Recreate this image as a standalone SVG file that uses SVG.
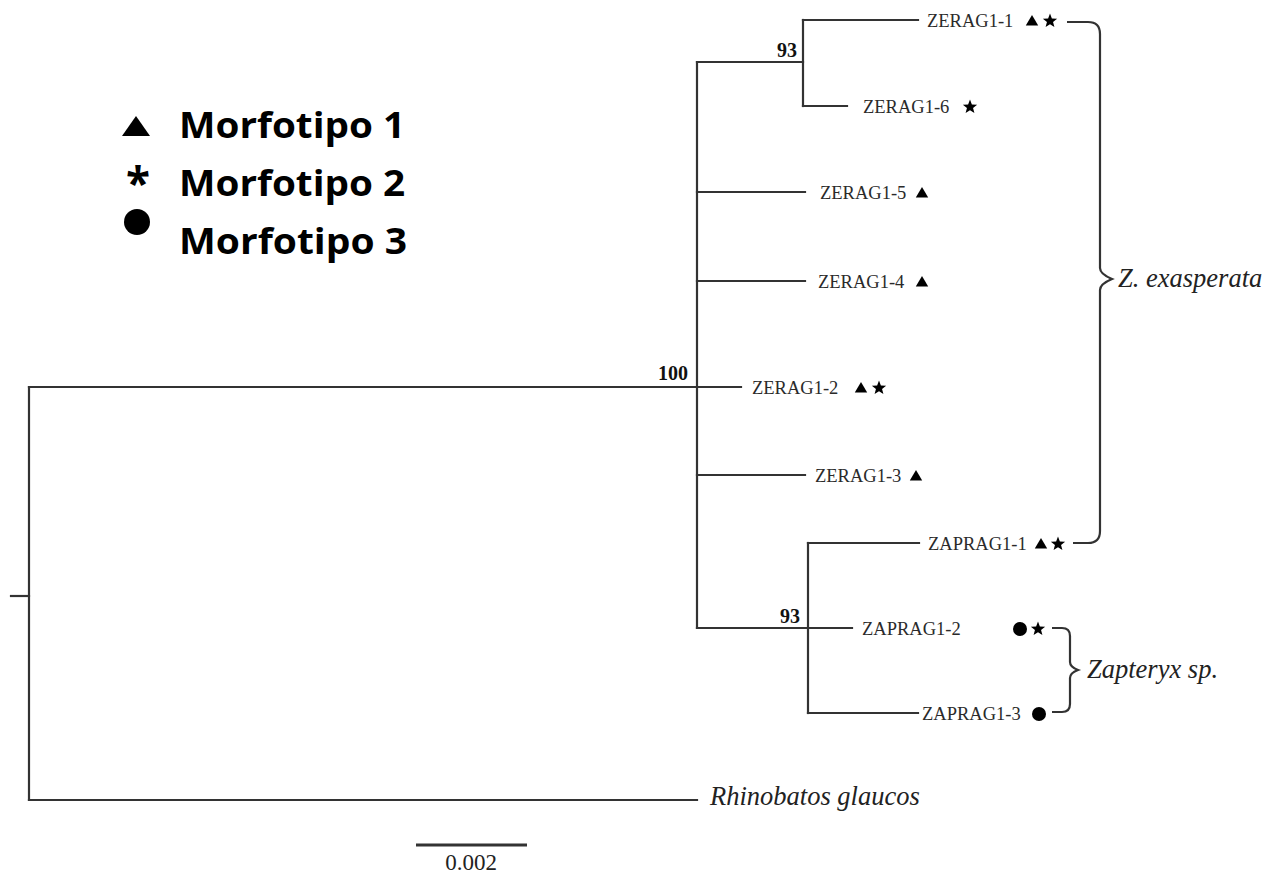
<svg xmlns="http://www.w3.org/2000/svg" xmlns:xlink="http://www.w3.org/1999/xlink" width="1282" height="874" viewBox="0 0 1282 874">
<style>
.br{stroke:#333;stroke-width:2.2;fill:none;stroke-linecap:square}
.tip{font-family:"Liberation Serif",serif;font-size:18.5px;fill:#2a2a2a}
.sup{font-family:"Liberation Serif",serif;font-size:20px;font-weight:bold;fill:#111}
.sp{font-family:"Liberation Serif",serif;font-style:italic;font-size:26.5px;fill:#222}
.leg{font-family:"Open Sans","Liberation Sans",sans-serif;font-weight:bold;font-size:35px;fill:#000}
.brace{stroke:#333;stroke-width:2.2;fill:none}
.m{fill:#000}
</style>
<defs>
<path id="tri" d="M0,-6 L6.2,4.5 L-6.2,4.5 Z"/>
<path id="star" d="M0,-7.5 L1.88,-2.59 L7.13,-2.32 L3.04,0.99 L4.41,6.07 L0,3.2 L-4.41,6.07 L-3.04,0.99 L-7.13,-2.32 L-1.88,-2.59 Z"/>
<circle id="dot" cx="0" cy="0" r="7"/>
</defs>
<rect width="1282" height="874" fill="#fff"/>

<g id="connectors">
<path class="br" d="M11,596 H29"/>
<path class="br" d="M29,387 V800"/>
<path class="br" d="M29,387 H697"/>
<path class="br" d="M29,800 H697"/>
<path class="br" d="M697,62 V628"/>
<path class="br" d="M697,62 H803"/>
<path class="br" d="M803,20 V106"/>
<path class="br" d="M803,20 H918"/>
<path class="br" d="M803,106 H847"/>
<path class="br" d="M697,192 H805"/>
<path class="br" d="M697,281 H805"/>
<path class="br" d="M697,387 H741"/>
<path class="br" d="M697,475 H805"/>
<path class="br" d="M697,628 H808"/>
<path class="br" d="M808,543 V713"/>
<path class="br" d="M808,543 H919"/>
<path class="br" d="M808,628 H852"/>
<path class="br" d="M808,713 H918"/>
</g>

<g id="support">
<text class="sup" x="658" y="380">100</text>
<text class="sup" x="777" y="57">93</text>
<text class="sup" x="780" y="623">93</text>
</g>

<g id="ZERAG1-1"><text class="tip" x="927" y="27">ZERAG1-1</text><use href="#tri" x="1032" y="21" class="m"/><use href="#star" x="1050" y="21" class="m"/></g>
<g id="ZERAG1-6"><text class="tip" x="863" y="113">ZERAG1-6</text><use href="#star" x="970" y="107" class="m"/></g>
<g id="ZERAG1-5"><text class="tip" x="820" y="199">ZERAG1-5</text><use href="#tri" x="922" y="193" class="m"/></g>
<g id="ZERAG1-4"><text class="tip" x="818" y="288">ZERAG1-4</text><use href="#tri" x="922" y="282" class="m"/></g>
<g id="ZERAG1-2"><text class="tip" x="752" y="394">ZERAG1-2</text><use href="#tri" x="861" y="388" class="m"/><use href="#star" x="879" y="388" class="m"/></g>
<g id="ZERAG1-3"><text class="tip" x="815" y="482">ZERAG1-3</text><use href="#tri" x="916" y="476" class="m"/></g>
<g id="ZAPRAG1-1"><text class="tip" x="928" y="550">ZAPRAG1-1</text><use href="#tri" x="1041" y="544" class="m"/><use href="#star" x="1058" y="544" class="m"/></g>
<g id="ZAPRAG1-2"><text class="tip" x="862" y="635">ZAPRAG1-2</text><use href="#dot" x="1020" y="629" class="m"/><use href="#star" x="1038" y="629" class="m"/></g>
<g id="ZAPRAG1-3"><text class="tip" x="922" y="720">ZAPRAG1-3</text><use href="#dot" x="1039" y="714" class="m"/></g>
<g id="Rhinobatos"><text class="sp" x="710" y="805">Rhinobatos glaucos</text></g>

<g id="brace-exasperata">
<path class="brace" d="M1067,22 H1088 Q1100,22 1100,34 V268 Q1100,274 1112,279 Q1100,284 1100,290 V531 Q1100,543 1088,543 H1073"/>
<text class="sp" x="1118" y="287">Z. exasperata</text>
</g>
<g id="brace-zapteryx">
<path class="brace" d="M1052,628 H1062 Q1070,628 1070,636 V662 Q1070,667 1078,670 Q1070,673 1070,678 V704 Q1070,712 1062,712 H1052"/>
<text class="sp" x="1087" y="678">Zapteryx sp.</text>
</g>

<g id="scale">
<path d="M416,845 H527" stroke="#333" stroke-width="3"/>
<text x="471" y="870" text-anchor="middle" style="font-family:'Liberation Serif',serif;font-size:23px;fill:#222">0.002</text>
</g>

<g id="legend">
<path class="m" d="M136,116 L150,136 L122,136 Z"/>
<text x="138" y="199" text-anchor="middle" class="leg" style="font-size:44px">*</text>
<circle class="m" cx="137" cy="222" r="13"/>
<text class="leg" x="179" y="138" textLength="226" lengthAdjust="spacingAndGlyphs">Morfotipo 1</text>
<text class="leg" x="179" y="196" textLength="226" lengthAdjust="spacingAndGlyphs">Morfotipo 2</text>
<text class="leg" x="179" y="254" textLength="228" lengthAdjust="spacingAndGlyphs">Morfotipo 3</text>
</g>
</svg>
